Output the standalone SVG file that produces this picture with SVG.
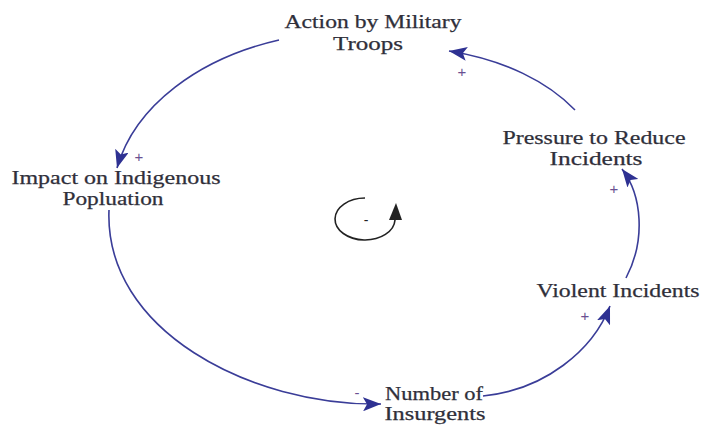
<svg xmlns="http://www.w3.org/2000/svg" width="704" height="426" viewBox="0 0 704 426">
<style>
.lbl{font-family:"Liberation Serif","Times New Roman",serif;font-size:19px;fill:#2f2f3a;text-anchor:middle;stroke:#2f2f3a;stroke-width:0.25}
.pol{font-family:"Liberation Sans",Arial,sans-serif;font-size:15px;fill:#6a4f92;text-anchor:middle}
.con{fill:none;stroke:#3a3d98;stroke-width:1.6}
</style>
<defs>
<marker id="ah" markerUnits="userSpaceOnUse" markerWidth="20" markerHeight="14" refX="18" refY="7" orient="auto">
<path d="M0,0 L18,7 L0,14 L4,7 Z" fill="#2e3192"/>
</marker>
</defs>
<g id="connectors">
<path class="con" marker-end="url(#ah)" d="M279,40 C200,58 135,105 117,168"/>
<path class="con" marker-end="url(#ah)" d="M109,210 C104,330 250,406 381,404"/>
<path class="con" marker-end="url(#ah)" d="M483,396 C545,390 593,350 610,306"/>
<path class="con" marker-end="url(#ah)" d="M626,278 C646,240 642,195 622,169"/>
<path class="con" marker-end="url(#ah)" d="M575,110 C548,82 505,60 449,51"/>
<text class="pol" x="139" y="162">+</text>
<text class="pol" x="357" y="398">-</text>
<text class="pol" x="585" y="321">+</text>
<text class="pol" x="614" y="194">+</text>
<text class="pol" x="462" y="77">+</text>
</g>
<g id="loop">
<path d="M365,198 A30,21 0 1 0 395,220" fill="none" stroke="#222" stroke-width="1.6"/>
<path d="M396,203 L389,220 L402,220 Z" fill="#222"/>
<text x="366" y="225" style="font-family:'Liberation Sans',sans-serif;font-size:14px;fill:#222" text-anchor="middle">-</text>
</g>
<g id="n-action">
<text class="lbl" x="373" y="28" textLength="177" lengthAdjust="spacingAndGlyphs">Action by Military</text>
<text class="lbl" x="368" y="50" textLength="70" lengthAdjust="spacingAndGlyphs">Troops</text>
</g>
<g id="n-impact">
<text class="lbl" x="116" y="184" textLength="209" lengthAdjust="spacingAndGlyphs">Impact on Indigenous</text>
<text class="lbl" x="113" y="205" textLength="101" lengthAdjust="spacingAndGlyphs">Popluation</text>
</g>
<g id="n-pressure">
<text class="lbl" x="594" y="144" textLength="183" lengthAdjust="spacingAndGlyphs">Pressure to Reduce</text>
<text class="lbl" x="596" y="165" textLength="93" lengthAdjust="spacingAndGlyphs">Incidents</text>
</g>
<g id="n-violent">
<text class="lbl" x="618" y="297" textLength="163" lengthAdjust="spacingAndGlyphs">Violent Incidents</text>
</g>
<g id="n-number">
<text class="lbl" x="434" y="400" textLength="98" lengthAdjust="spacingAndGlyphs">Number of</text>
<text class="lbl" x="435" y="420" textLength="101" lengthAdjust="spacingAndGlyphs">Insurgents</text>
</g>
</svg>
